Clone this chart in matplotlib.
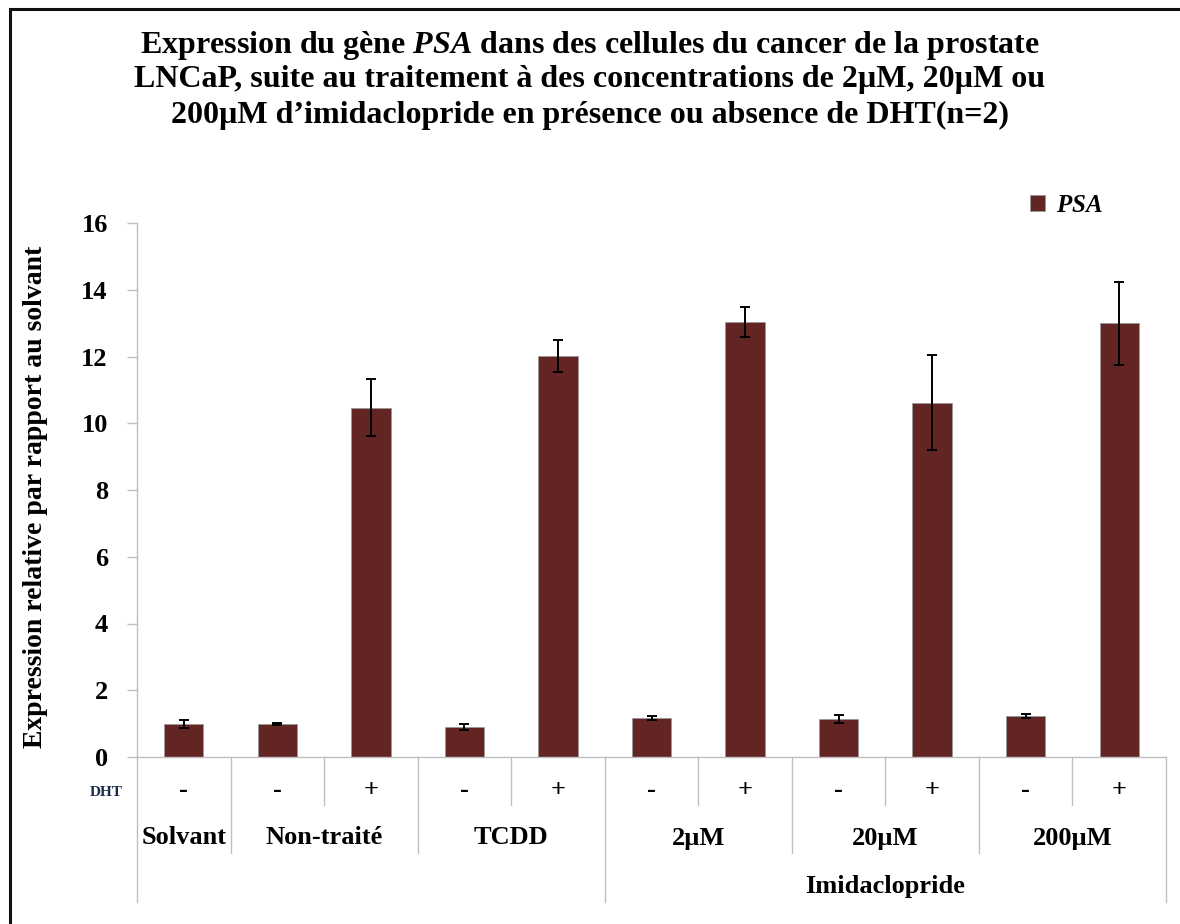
import matplotlib
matplotlib.use("Agg")
import matplotlib.pyplot as plt
from matplotlib.patches import Rectangle
from matplotlib.transforms import blended_transform_factory

# ---- data -------------------------------------------------------------
dht_signs = ["-", "-", "+", "-", "+", "-", "+", "-", "+", "-", "+"]
psa_values = [1.00, 0.99, 10.47, 0.89, 12.02, 1.17, 13.03, 1.15, 10.61, 1.23, 12.99]
psa_errors = [0.12, 0.02, 0.85, 0.09, 0.47, 0.06, 0.44, 0.12, 1.42, 0.06, 1.25]
group_names = ["Solvant", "Non-traité", "TCDD", "2µM", "20µM", "200µM"]
group_sizes = [1, 2, 2, 2, 2, 2]
family_name = "Imidaclopride"
family_first_group = 3  # index of first group belonging to the family
y_ticks = [0, 2, 4, 6, 8, 10, 12, 14, 16]

# ---- style ------------------------------------------------------------
plt.rcParams["font.family"] = ["Liberation Serif", "DejaVu Serif"]
plt.rcParams["font.weight"] = "bold"
plt.rcParams["mathtext.fontset"] = "custom"
plt.rcParams["mathtext.rm"] = "Liberation Serif:bold"
plt.rcParams["mathtext.it"] = "Liberation Serif:italic:bold"

bar_color = "#632424"
sep_color = "#BFBFBF"

W, H = 1180, 924
fig = plt.figure(figsize=(W / 100, H / 100), dpi=100)

def fx(px):
    return px / W

def fy(py):
    return 1 - py / H

ax = fig.add_axes([fx(137), fy(757), fx(1166) - fx(137), fy(223) - fy(757)])

n = len(psa_values)
xs = list(range(n))
ax.bar(xs, psa_values, width=0.42, color=bar_color, edgecolor="#9a9a9a",
       linewidth=0.6, label=r"$\mathit{PSA}$", zorder=2)
ax.errorbar(xs, psa_values, yerr=psa_errors, fmt="none", ecolor="black",
            elinewidth=1.4, capsize=3.5, capthick=1.4, zorder=3)

ax.set_xlim(-0.5, n - 0.5)
ax.set_ylim(0, 16)
ax.set_yticks(y_ticks)
ax.set_yticklabels([str(t) for t in y_ticks], fontsize=19, fontweight="bold")
ax.tick_params(axis="y", direction="out", length=7, width=1, color=sep_color, pad=14)
ax.set_xticks([])
for side in ["top", "right"]:
    ax.spines[side].set_visible(False)
for side in ["left", "bottom"]:
    ax.spines[side].set_color(sep_color)
    ax.spines[side].set_linewidth(1.0)

fig.text(fx(36), fy(497), "Expression relative par rapport au solvant",
         rotation=90, ha="center", va="center", fontsize=20, fontweight="bold")

# ---- multi-level category axis ---------------------------------------
tr = blended_transform_factory(ax.transData, fig.transFigure)

def vline(x, y_bottom_px):
    ax.plot([x, x], [fy(757), fy(y_bottom_px)], transform=tr, color=sep_color,
            lw=1.0, clip_on=False, zorder=1)

# row 1: DHT signs
for i, s in enumerate(dht_signs):
    ax.text(i, fy(791), s, transform=tr, ha="center", va="center",
            fontsize=19, fontweight="bold")
fig.text(fx(123), fy(793), "DHT", ha="right", va="center", fontsize=11,
         fontweight="bold", color="#1c2b4a")

# row 2: group names, row separators
start = 0
group_bounds = []
for name, size in zip(group_names, group_sizes):
    center = start + (size - 1) / 2
    ax.text(center, fy(838), name, transform=tr, ha="center", va="center",
            fontsize=19, fontweight="bold")
    for k in range(1, size):
        vline(start + k - 0.5, 805)
    group_bounds.append(start - 0.5)
    start += size
group_bounds.append(start - 0.5)

family_left = group_bounds[family_first_group]
for b in group_bounds:
    if b in (group_bounds[0], group_bounds[-1], family_left):
        vline(b, 902)
    else:
        vline(b, 853)

ax.text((family_left + group_bounds[-1]) / 2, fy(886), family_name, transform=tr,
        ha="center", va="center", fontsize=19, fontweight="bold")

# ---- legend ------------------------------------------------------------
leg = ax.legend(loc="upper left", bbox_to_anchor=(fx(1030), fy(194)),
                bbox_transform=fig.transFigure, frameon=False, fontsize=18,
                handlelength=0.58, handleheight=0.58, handletextpad=0.45,
                borderpad=0, borderaxespad=0)

# ---- title ------------------------------------------------------------
title_lines = [
    r"Expression du gène $\mathit{PSA}$ dans des cellules du cancer de la prostate",
    "LNCaP, suite au traitement à des concentrations de 2µM, 20µM ou",
    "200µM d’imidaclopride en présence ou absence de DHT(n=2)",
]
for line, ypx in zip(title_lines, [45, 80, 115]):
    fig.text(fx(590), fy(ypx), line, ha="center", va="center", fontsize=23,
             fontweight="bold")

# ---- outer frame ----------------------------------------------------------
fig.patches.append(Rectangle((fx(10), -0.1), 1.2, fy(9) + 0.1, transform=fig.transFigure,
                             fill=False, edgecolor="#111111", linewidth=2.2))

fig.savefig("out.png", dpi=100)
